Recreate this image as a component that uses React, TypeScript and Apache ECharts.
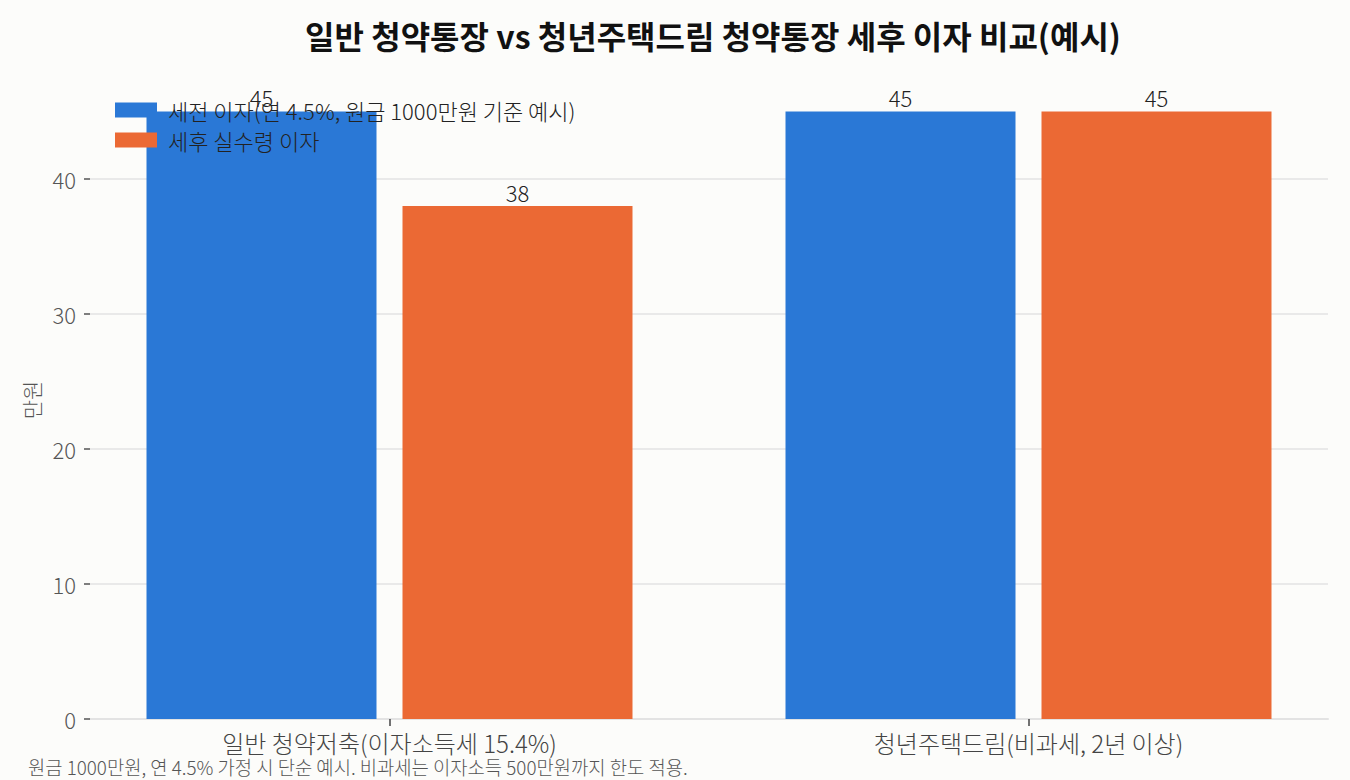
import React, { useEffect, useRef } from "react";
import * as echarts from "echarts";

const categories = ["일반 청약저축(이자소득세 15.4%)", "청년주택드림(비과세, 2년 이상)"];
const beforeTax = [45, 45];
const afterTax = [38, 45];
const seriesNames = ["세전 이자(연 4.5%, 원금 1000만원 기준 예시)", "세후 실수령 이자"];
const yTicks = [0, 10, 20, 30, 40];
const titleText = "일반 청약통장 vs 청년주택드림 청약통장 세후 이자 비교(예시)";
const footnote = "원금 1000만원, 연 4.5% 가정 시 단순 예시. 비과세는 이자소득 500만원까지 한도 적용.";
const yName = "만원";

const FONT = "'Noto Sans CJK KR', 'Noto Sans', sans-serif";

export default function App() {
  const ref = useRef<HTMLDivElement>(null);
  useEffect(() => {
    document.body.style.margin = "0";
    const chart = echarts.init(ref.current!, undefined, { renderer: "svg" });
    const xIdx = categories.map((_, i) => i);
    const labelStyle = {
      show: true,
      position: "top" as const,
      distance: 3,
      color: "#222",
      fontSize: 22,
      fontWeight: 300,
      fontFamily: FONT,
    };
    chart.setOption({
      animation: false,
      backgroundColor: "#fcfcfa",
      textStyle: { fontFamily: FONT },
      title: [
        {
          text: titleText,
          left: 708,
          top: 14,
          textAlign: "center",
          textStyle: { fontSize: 32, fontWeight: "bold", color: "#111", fontFamily: FONT },
        },
        {
          text: footnote,
          left: 23,
          top: 752,
          textStyle: { fontSize: 18.8, fontWeight: 300, color: "#555", fontFamily: FONT },
        },
      ],
      legend: {
        orient: "vertical",
        left: 110,
        top: 94,
        itemWidth: 42,
        itemHeight: 15,
        itemGap: 8,
        icon: "rect",
        textStyle: { fontSize: 22, fontWeight: 300, color: "#222", fontFamily: FONT, padding: [0, 0, 0, 6] },
        data: seriesNames,
      },
      grid: { left: 90, top: 81, width: 1238, height: 638, containLabel: false },
      xAxis: {
        type: "value",
        min: -0.4687,
        max: 1.4687,
        axisLine: { show: true, onZero: false, lineStyle: { color: "#e3e3e3", width: 2 } },
        axisTick: {
          show: true,
          customValues: xIdx,
          length: 7,
          lineStyle: { color: "#444", width: 1.5 },
        },
        axisLabel: {
          show: true,
          customValues: xIdx,
          formatter: (v: number) => categories[Math.round(v)] ?? "",
          fontSize: 24,
          fontWeight: 300,
          color: "#444",
          margin: 11,
          fontFamily: FONT,
        },
        splitLine: { show: false },
      },
      yAxis: {
        type: "value",
        min: 0,
        max: 47.25,
        interval: 10,
        name: yName,
        nameLocation: "middle",
        nameGap: 49,
        nameTextStyle: { fontSize: 21, fontWeight: 300, color: "#555", fontFamily: FONT },
        axisLine: { show: false, onZero: false },
        axisTick: {
          show: true,
          customValues: yTicks,
          length: 6,
          lineStyle: { color: "#555", width: 1.5 },
        },
        axisLabel: {
          customValues: yTicks,
          fontSize: 22,
          fontWeight: 300,
          color: "#555",
          margin: 14,
          fontFamily: FONT,
        },
        splitLine: {
          show: true,
          lineStyle: {
            color: ["#e3e3e3", "#e3e3e3", "#e3e3e3", "#e3e3e3", "#e3e3e3", "rgba(0,0,0,0)"],
            width: 1.5,
          },
        },
      },
      series: [
        {
          name: seriesNames[0],
          type: "bar",
          data: beforeTax.map((v, i) => [xIdx[i], v]),
          barWidth: 230,
          barGap: "11.3%",
          itemStyle: { color: "#2a78d6" },
          label: labelStyle,
        },
        {
          name: seriesNames[1],
          type: "bar",
          data: afterTax.map((v, i) => [xIdx[i], v]),
          barWidth: 230,
          barGap: "11.3%",
          itemStyle: { color: "#eb6934" },
          label: labelStyle,
        },
      ],
    });
    return () => chart.dispose();
  }, []);
  return <div ref={ref} style={{ width: 1350, height: 780 }} />;
}
